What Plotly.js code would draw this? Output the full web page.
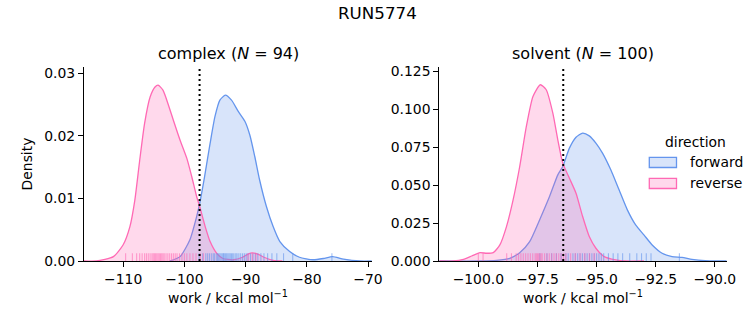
<!DOCTYPE html>
<html>
<head>
<meta charset="utf-8">
<script src="https://cdn.plot.ly/plotly-3.0.1.min.js"></script>
<style>html,body{margin:0;padding:0;background:#fff;}#plot{width:753px;height:325px;}</style>
</head>
<body>
<div id="plot"></div>
<script>
// ---- Data ----
const suptitle = "RUN5774";
const panelNames = ["complex", "solvent"];
const panelN = [94, 100];
const directions = ["forward", "reverse"];

// KDE curves, complex leg
const complexFwdX = [-102.4, -100.7, -99.1, -98.0, -97.5, -96.7, -95.8, -95.0, -94.2, -93.3, -92.3, -91.2, -90.1, -89.3, -88.5, -87.7, -86.6, -85.5, -84.4, -82.8, -81.2, -79.0, -77.3, -75.8, -74.0, -71.3, -69.4];
const complexFwdY = [0.0, 0.0007, 0.0034, 0.0071, 0.0092, 0.0135, 0.0188, 0.0231, 0.0257, 0.0265, 0.0257, 0.0239, 0.0223, 0.0201, 0.0167, 0.0129, 0.0087, 0.0055, 0.0031, 0.0015, 0.0006, 0.0002, 0.0004, 0.0007, 0.0003, 0.0, 0.0];
const complexRevX = [-116.4, -114.4, -111.6, -110.0, -108.9, -108.1, -107.3, -106.5, -105.6, -104.8, -104.3, -103.5, -102.6, -101.8, -100.7, -99.6, -98.8, -98.0, -97.5, -96.6, -95.8, -94.7, -93.7, -92.0, -90.5, -89.6, -88.9, -88.0, -87.0, -85.5, -84.0];
const complexRevY = [0.0, 0.0, 0.0007, 0.0026, 0.0055, 0.0097, 0.0161, 0.022, 0.0262, 0.0278, 0.0281, 0.0273, 0.0249, 0.0225, 0.0193, 0.0164, 0.0135, 0.0103, 0.0087, 0.0055, 0.0031, 0.0012, 0.0004, 0.0002, 0.0006, 0.0011, 0.0013, 0.0011, 0.0006, 0.0001, 0.0];

// KDE curves, solvent leg
const solventFwdX = [-101.65, -99.93, -99.23, -98.67, -98.25, -97.83, -97.41, -96.99, -96.64, -96.43, -96.15, -95.87, -95.59, -95.31, -95.03, -94.75, -94.40, -94.05, -93.70, -93.35, -93.00, -92.65, -92.23, -91.81, -91.39, -90.97, -90.41, -89.85, -89.5];
const solventFwdY = [0.0, 0.0, 0.0004, 0.0018, 0.0055, 0.0128, 0.0271, 0.0425, 0.0568, 0.0623, 0.0744, 0.0816, 0.0843, 0.0825, 0.0777, 0.0711, 0.0601, 0.0469, 0.0337, 0.0238, 0.0172, 0.0106, 0.0051, 0.0029, 0.0024, 0.0011, 0.0002, 0.0, 0.0];
const solventRevX = [-101.65, -101.05, -100.63, -100.28, -99.93, -99.65, -99.37, -99.09, -98.81, -98.53, -98.25, -97.97, -97.69, -97.38, -97.13, -96.85, -96.64, -96.43, -96.15, -95.87, -95.59, -95.31, -95.03, -94.68, -94.19, -93.77, -93.0];
const solventRevY = [0.0, 0.0, 0.0011, 0.0033, 0.0055, 0.0051, 0.0055, 0.0106, 0.0227, 0.0403, 0.0623, 0.0887, 0.1085, 0.1162, 0.1129, 0.0975, 0.0799, 0.0645, 0.0546, 0.0447, 0.0293, 0.0161, 0.0084, 0.0029, 0.0007, 0.0, 0.0];

// Rug samples (estimated)
const complexFwdRug = [-97.6, -97.0, -96.5, -96.2, -95.9, -95.6, -95.3, -95.1, -94.8, -94.6, -94.4, -94.2, -94.0, -93.8, -93.6, -93.5, -93.3, -93.1, -92.9, -92.7, -92.5, -92.3, -92.1, -91.9, -91.6, -91.4, -91.1, -90.8, -90.5, -90.2, -89.9, -89.6, -89.2, -88.8, -88.4, -88.0, -87.5, -87.0, -86.4, -85.7, -84.9, -83.8, -82.3, -75.9];
const complexRevRug = [-109.6, -108.5, -107.8, -107.3, -106.9, -106.5, -106.2, -105.9, -105.6, -105.3, -105.1, -104.9, -104.7, -104.5, -104.3, -104.1, -103.9, -103.7, -103.5, -103.3, -103.0, -102.7, -102.4, -102.1, -101.8, -101.5, -101.2, -100.8, -100.4, -100.0, -99.6, -99.1, -98.6, -98.1, -97.4, -96.9, -89.6, -88.9, -88.3];
const solventFwdRug = [-97.4, -97.1, -96.9, -96.7, -96.5, -96.3, -96.2, -96.0, -95.9, -95.8, -95.7, -95.6, -95.5, -95.4, -95.3, -95.2, -95.1, -95.0, -94.9, -94.8, -94.7, -94.5, -94.3, -94.1, -93.9, -93.6, -93.3, -93.1, -92.9, -92.7, -91.5];
const solventRevRug = [-100.0, -99.8, -98.8, -98.6, -98.4, -98.3, -98.2, -98.1, -98.0, -97.9, -97.8, -97.7, -97.6, -97.55, -97.5, -97.45, -97.4, -97.35, -97.3, -97.2, -97.1, -97.0, -96.9, -96.8, -96.7, -96.6, -96.5, -96.4, -96.3, -96.1, -95.9, -95.7, -95.5, -95.3, -95.1];

// Vertical dotted reference lines (estimate)
const complexEstimate = -97.52;
const solventEstimate = -96.41;

// ---- Styling ----
const FONT = "DejaVu Sans, sans-serif";
const FS = 13.9;
const BLUE = "rgb(100,149,237)";
const BLUE_FILL = "rgba(100,149,237,0.25)";
const PINK = "rgb(255,105,180)";
const PINK_FILL = "rgba(255,105,180,0.25)";

function kde(x, y, line, fill, xa, ya) {
  return {x: x, y: y, xaxis: xa, yaxis: ya, type: "scatter", mode: "lines",
    line: {color: line, width: 1.3, shape: "spline", smoothing: 0.6},
    fill: "tozeroy", fillcolor: fill, showlegend: false, hoverinfo: "skip"};
}
function rug(x, color, xa, ya) {
  return {x: x, y: x.map(() => 0), xaxis: xa, yaxis: ya, type: "scatter", mode: "markers",
    marker: {symbol: "line-ns-open", size: 11, color: color, line: {color: color, width: 1.1}},
    showlegend: false, hoverinfo: "skip", cliponaxis: true};
}

const traces = [
  kde(complexFwdX, complexFwdY, BLUE, BLUE_FILL, "x", "y"),
  kde(complexRevX, complexRevY, PINK, PINK_FILL, "x", "y"),
  rug(complexFwdRug, "rgba(100,149,237,0.6)", "x", "y"),
  rug(complexRevRug, "rgba(255,105,180,0.6)", "x", "y"),
  kde(solventFwdX, solventFwdY, BLUE, BLUE_FILL, "x2", "y2"),
  kde(solventRevX, solventRevY, PINK, PINK_FILL, "x2", "y2"),
  rug(solventFwdRug, "rgba(100,149,237,0.6)", "x2", "y2"),
  rug(solventRevRug, "rgba(255,105,180,0.6)", "x2", "y2")
];

const W = 753, H = 325;
const px = v => v / W, py = v => 1 - v / H;

const axisCommon = {
  showline: true, linecolor: "black", linewidth: 1, mirror: false,
  ticks: "outside", ticklen: 5, tickwidth: 1, tickcolor: "black",
  showgrid: false, zeroline: false,
  tickfont: {family: FONT, size: FS, color: "black"}
};
const xTitle = {text: "work / kcal mol<sup>−1</sup>", font: {family: FONT, size: FS, color: "black"}, standoff: 7};

const layout = {
  width: W, height: H,
  margin: {l: 0, r: 0, t: 0, b: 0},
  paper_bgcolor: "white", plot_bgcolor: "white",
  font: {family: FONT, color: "black"},
  showlegend: false,
  xaxis: Object.assign({}, axisCommon, {domain: [px(84), px(372)], range: [-116.4, -69.35], dtick: 10, tick0: 0, anchor: "y", title: xTitle}),
  yaxis: Object.assign({}, axisCommon, {domain: [py(261), py(67)], range: [0, 0.031], dtick: 0.01, tickformat: ".2f", anchor: "x",
    title: {text: "Density", font: {family: FONT, size: FS, color: "black"}, standoff: 8}}),
  xaxis2: Object.assign({}, axisCommon, {domain: [px(439.3), px(726.7)], range: [-101.65, -89.5], dtick: 2.5, tick0: 0, tickformat: ".1f", anchor: "y2", title: xTitle}),
  yaxis2: Object.assign({}, axisCommon, {domain: [py(261), py(67)], range: [0, 0.1279], dtick: 0.025, tickformat: ".3f", anchor: "x2"}),
  shapes: [
    {type: "line", xref: "x", yref: "y domain", x0: complexEstimate, x1: complexEstimate, y0: 0, y1: 1, line: {color: "black", width: 2, dash: "2px,3px"}},
    {type: "line", xref: "x2", yref: "y2 domain", x0: solventEstimate, x1: solventEstimate, y0: 0, y1: 1, line: {color: "black", width: 2, dash: "2px,3px"}},
    // legend patches
    {type: "rect", xref: "paper", yref: "paper", x0: px(649.3), x1: px(676.5), y0: py(167.5), y1: py(157.3), fillcolor: BLUE_FILL, line: {color: BLUE, width: 1.3}},
    {type: "rect", xref: "paper", yref: "paper", x0: px(649.3), x1: px(676.5), y0: py(188.5), y1: py(178.3), fillcolor: PINK_FILL, line: {color: PINK, width: 1.3}}
  ],
  annotations: [
    {text: suptitle, xref: "paper", yref: "paper", x: px(377), y: py(13), xanchor: "center", yanchor: "middle", showarrow: false, font: {family: FONT, size: 16.7, color: "black"}},
    {text: panelNames[0] + " (<i>N</i> = " + panelN[0] + ")", xref: "paper", yref: "paper", x: px(228), y: py(54), xanchor: "center", yanchor: "middle", showarrow: false, font: {family: FONT, size: 16, color: "black"}},
    {text: panelNames[1] + " (<i>N</i> = " + panelN[1] + ")", xref: "paper", yref: "paper", x: px(583), y: py(54), xanchor: "center", yanchor: "middle", showarrow: false, font: {family: FONT, size: 16, color: "black"}},
    {text: "direction", xref: "paper", yref: "paper", x: px(695), y: py(141.5), xanchor: "center", yanchor: "middle", showarrow: false, font: {family: FONT, size: FS, color: "black"}},
    {text: directions[0], xref: "paper", yref: "paper", x: px(688), y: py(162), xanchor: "left", yanchor: "middle", showarrow: false, font: {family: FONT, size: FS, color: "black"}},
    {text: directions[1], xref: "paper", yref: "paper", x: px(688), y: py(183), xanchor: "left", yanchor: "middle", showarrow: false, font: {family: FONT, size: FS, color: "black"}}
  ]
};

Plotly.newPlot("plot", traces, layout, {displayModeBar: false, staticPlot: true});
</script>
</body>
</html>
